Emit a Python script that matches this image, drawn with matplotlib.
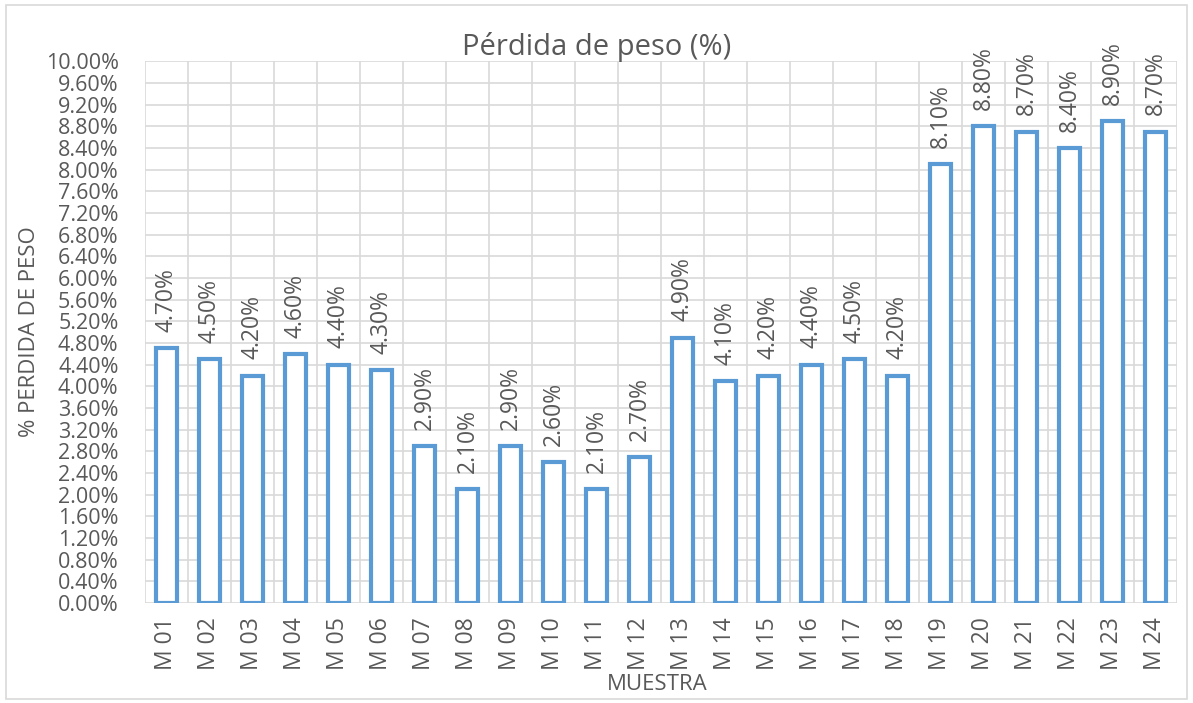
import numpy as np
import matplotlib.pyplot as plt
from matplotlib.patches import Rectangle
from matplotlib.ticker import MultipleLocator, FuncFormatter

# Datos
muestras = [f"M {i:02d}" for i in range(1, 25)]
perdida = [4.7, 4.5, 4.2, 4.6, 4.4, 4.3, 2.9, 2.1, 2.9, 2.6, 2.1, 2.7,
           4.9, 4.1, 4.2, 4.4, 4.5, 4.2, 8.1, 8.8, 8.7, 8.4, 8.9, 8.7]

gris = '#595959'
azul = '#5B9BD5'
plt.rcParams['font.family'] = ['Open Sans', 'DejaVu Sans']

fig = plt.figure(figsize=(11.93, 7.03), dpi=100)
ax = fig.add_axes([0.1215, 0.142, 0.865, 0.771])

x = np.arange(len(muestras))
ax.bar(x, perdida, width=0.5, facecolor='white', edgecolor=azul, linewidth=3, zorder=3)

# etiquetas de datos
for xi, v in zip(x, perdida):
    ax.text(xi, v + 0.3, f"{v:.2f}%", rotation=90, ha='center', va='bottom',
            color=gris, fontsize=16.5, zorder=4)

ax.set_xlim(-0.5, len(muestras) - 0.5)
ax.set_ylim(0, 10)
ax.yaxis.set_major_locator(MultipleLocator(0.4))
ax.yaxis.set_major_formatter(FuncFormatter(lambda v, p: f"{v:.2f}%"))
ax.set_xticks(x)
ax.set_xticklabels(muestras, rotation=90)
ax.set_xticks(np.arange(-0.5, len(muestras)), minor=True)
ax.tick_params(axis='both', length=0, colors=gris)
ax.tick_params(axis='x', labelsize=16.5, pad=10)
ax.tick_params(axis='x', which='minor', length=0)
ax.tick_params(axis='y', labelsize=15.5, pad=19)
ax.grid(axis='y', color='#D9D9D9', linewidth=1.2, zorder=0)
ax.grid(axis='x', which='minor', color='#D9D9D9', linewidth=1.2, zorder=0)
for s in ax.spines.values():
    s.set_visible(False)

fig.text(0.5, 1 - 47 / 703, 'Pérdida de peso (%)', color=gris, fontsize=21,
         ha='center', va='center')
fig.text(0.551, 1 - 684 / 703, 'MUESTRA', color=gris, fontsize=16,
         ha='center', va='center')
fig.text(30 / 1193, 1 - 332 / 703, '% PERDIDA DE PESO', color=gris, fontsize=16,
         ha='center', va='center', rotation=90)

fig.patches.append(Rectangle((0.005, 0.005), 0.99, 0.988, transform=fig.transFigure,
                             fill=False, edgecolor='#D9D9D9', linewidth=1.2))

fig.savefig('out.png', dpi=100)
